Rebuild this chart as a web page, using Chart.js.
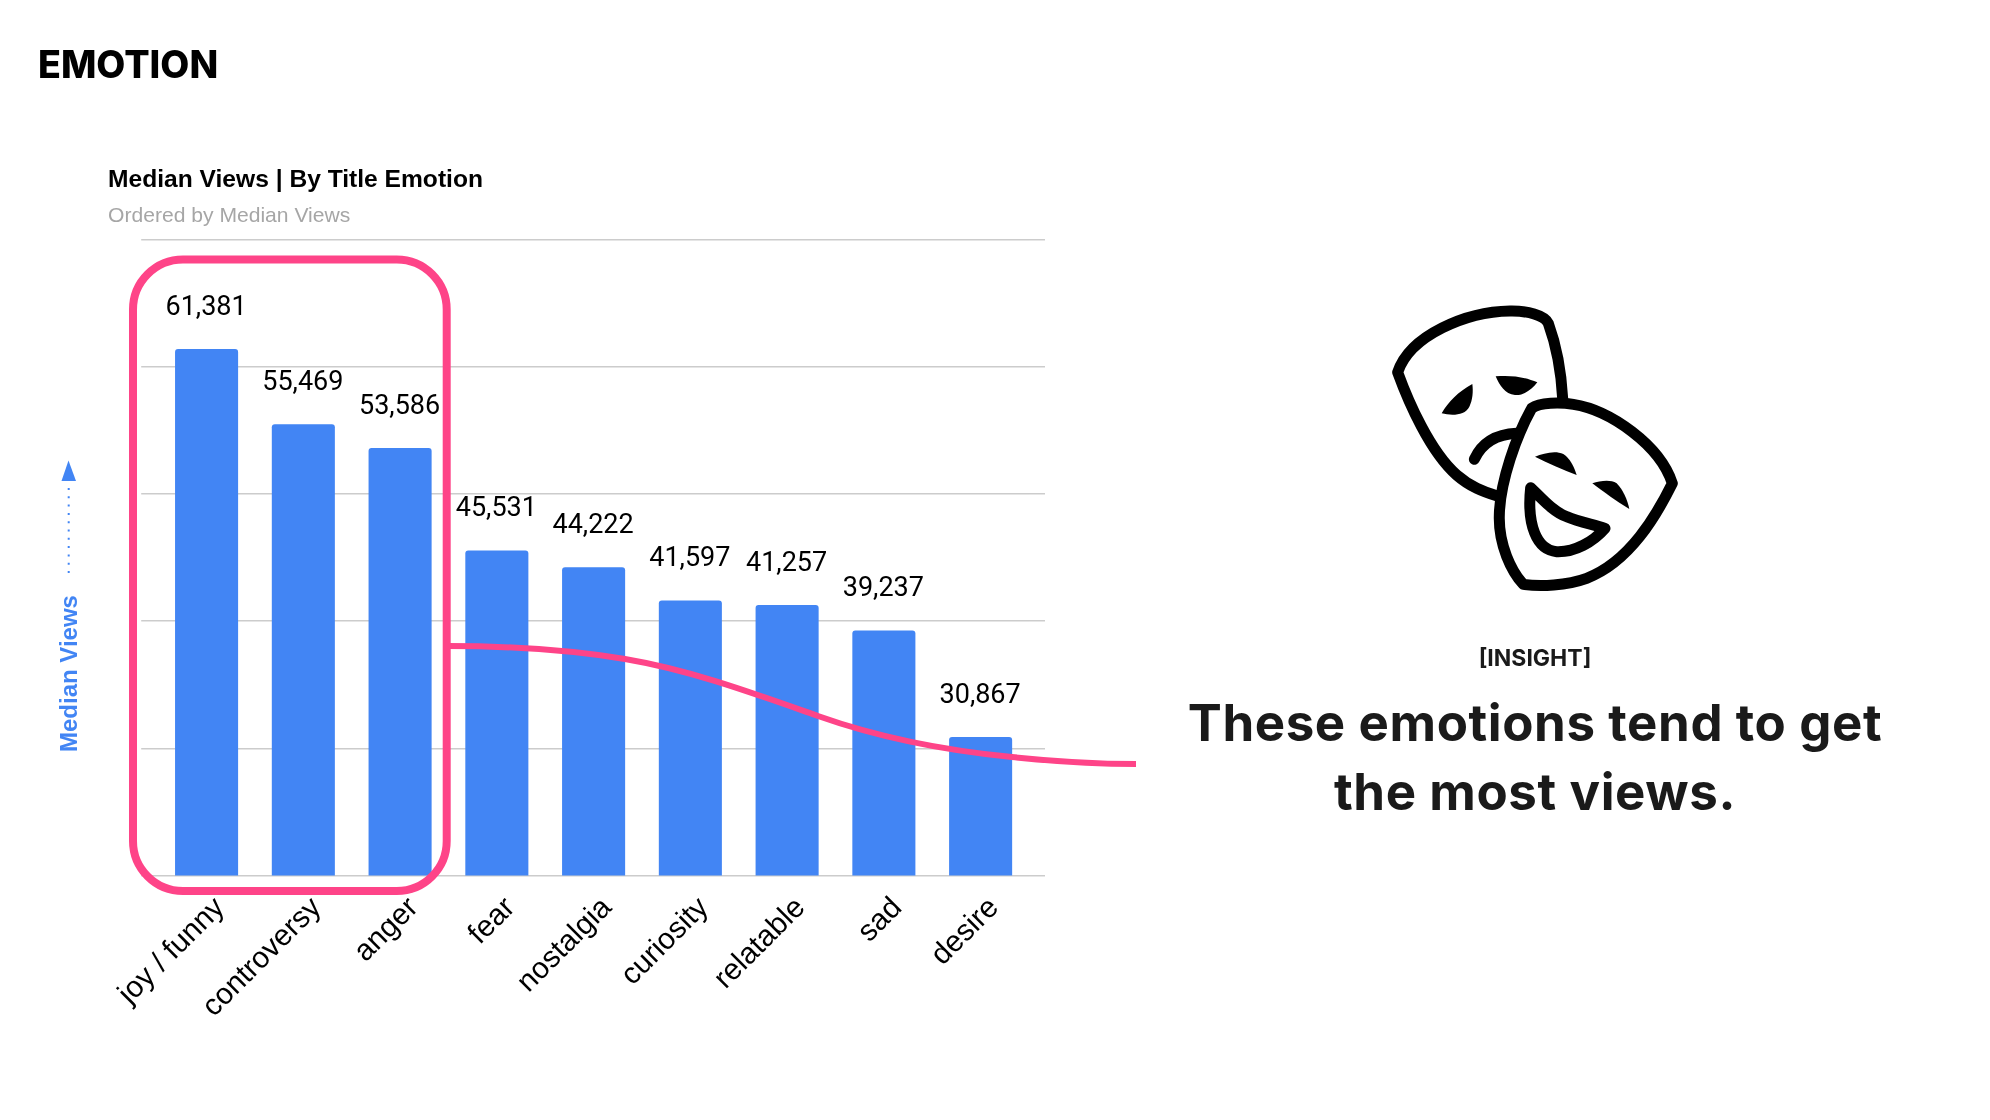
<!DOCTYPE html>
<html>
<head>
<meta charset="utf-8">
<title>Emotion</title>
<script src="https://cdn.jsdelivr.net/npm/chart.js@4"></script>
<style>
	html, body { margin: 0; padding: 0; background: #fff; }
	#page { position: relative; width: 1990px; height: 1120px; overflow: hidden; }
	#chart { position: absolute; left: 108px; top: 165px; }
	#overlay { position: absolute; left: 0; top: 0; pointer-events: none; }
	.txt { position: absolute; font-family: "Inter", sans-serif; white-space: nowrap; }
	#heading { left: 38px; top: 42px; font-size: 37.6px; line-height: 45px; font-weight: 800; color: #000; }
	#insight { left: 1335px; width: 400px; top: 644px; text-align: center; font-size: 23px; line-height: 28px; font-weight: 700; color: #1a1a1a; }
	#message { left: 1135px; width: 800px; top: 688px; text-align: center; font-size: 51px; line-height: 69px; font-weight: 700; letter-spacing: 0.6px; color: #1a1a1a; }
</style>
</head>
<body>
<div id="page">
	<canvas id="chart" width="937" height="937"></canvas>
	<svg id="overlay" width="1990" height="1120" viewBox="0 0 1990 1120">
		<!-- highlight around the top three and the swoosh to the insight -->
		<rect x="133" y="259.5" width="313.7" height="631.5" rx="50" ry="50" fill="none" stroke="#fe4488" stroke-width="8"/>
		<path d="M447 646 C510 646 570 650 625 659 C690 670 750 692 818 716 C880 738 950 751 1012 757 C1050 761 1095 764 1136 764" fill="none" stroke="#fe4488" stroke-width="6"/>

		<!-- axis caption and arrow -->
		<text transform="translate(76.5 752) rotate(-90)" font-family="Liberation Sans" font-weight="700" font-size="24" fill="#4285f4">Median Views</text>
		<line x1="68.7" y1="573" x2="68.7" y2="486" stroke="#4285f4" stroke-width="2" stroke-dasharray="2 6.3"/>
		<path d="M68.5 460.5 L76 481 L61.5 481 Z" fill="#4285f4"/>

		<!-- theatre masks -->
		<g transform="translate(1380 295) scale(0.33333)" stroke="#000" stroke-width="33" stroke-linejoin="round" stroke-linecap="round">
			<path d="M548 310 C543 220 525 140 505 85 C495 60 440 47 390 48 C260 50 90 120 53 232 C85 320 150 470 230 540 C270 575 310 590 352 603" fill="#fff" stroke-linecap="butt"/>
			<path d="M283 493 C305 445 345 418 410 415" fill="none"/>
			<path d="M277 267 C235 290 205 320 185 355 C215 362 255 362 268 335 C278 315 280 290 277 267 Z" fill="#000" stroke="none"/>
			<path d="M347 244 C390 240 435 245 472 262 C455 285 430 302 405 300 C375 298 358 270 347 244 Z" fill="#000" stroke="none"/>
			<path d="M455 340 C480 322 540 322 580 328 C690 345 840 450 877 565 C830 660 750 800 620 850 C560 872 480 875 430 868 C395 830 355 750 358 660 C360 560 410 420 455 340 Z" fill="#fff"/>
			<path d="M452 578 C490 615 520 650 560 665 C600 682 640 688 675 700 C640 740 585 772 530 770 C470 765 440 690 452 578 Z" fill="none"/>
			<path d="M465 485 C490 475 525 465 550 477 C570 490 582 515 590 540 C550 525 505 505 465 485 Z" fill="#000" stroke="none"/>
			<path d="M637 565 C660 558 690 552 710 565 C730 585 742 615 748 642 C710 620 670 590 637 565 Z" fill="#000" stroke="none"/>
		</g>
	</svg>
	<div id="heading" class="txt">EMOTION</div>
	<div id="insight" class="txt">[INSIGHT]</div>
	<div id="message" class="txt">These emotions tend to get<br>the most views.</div>
</div>

<script>
var categories = ["joy / funny", "controversy", "anger", "fear", "nostalgia", "curiosity", "relatable", "sad", "desire"];
var medianViews = [61381, 55469, 53586, 45531, 44222, 41597, 41257, 39237, 30867];
var axisMin = 20000;
var axisMax = 70000;
var axisStep = 10000;

var BLUE = "#4285f4";
var GRID = "#cccccc";

// values above each bar, chart.js has no built in data labels
var barValues = {
	id : "barValues",
	afterDatasetsDraw : function (chart) {
		var ctx = chart.ctx;
		var bars = chart.getDatasetMeta(0).data;
		ctx.save();
		ctx.font = "27px Roboto";
		ctx.fillStyle = "#000";
		ctx.textAlign = "center";
		ctx.textBaseline = "alphabetic";
		bars.forEach(function (bar, i) {
			ctx.fillText(medianViews[i].toLocaleString("en-US"), bar.x - 0.5, bar.y - 34.5);
		});
		ctx.restore();
	}
};

var sideAxis = {
	min : axisMin,
	max : axisMax,
	border : { display : false },
	ticks : { display : false, stepSize : axisStep }
};

new Chart(document.getElementById("chart"), {
	type : "bar",
	data : {
		labels : categories,
		datasets : [
			{
				label : "Median Views",
				data : medianViews,
				backgroundColor : BLUE,
				barThickness : 62.4,
				borderRadius : { topLeft : 3, topRight : 3 }
			}
		]
	},
	options : {
		responsive : false,
		animation : false,
		layout : { padding : 0 },
		plugins : {
			legend : { display : false },
			tooltip : { enabled : false },
			title : {
				display : true,
				align : "start",
				text : "Median Views | By Title Emotion",
				color : "#000",
				font : { family : "Liberation Sans", size : 24.6, weight : "bold" },
				padding : { top : 0, bottom : 9 }
			},
			subtitle : {
				display : true,
				align : "start",
				text : "Ordered by Median Views",
				color : "#a6a6a6",
				font : { family : "Liberation Sans", size : 21.1, weight : "normal" },
				padding : { top : 0, bottom : 10.9 }
			}
		},
		scales : {
			x : {
				grid : { display : false },
				border : { display : false },
				ticks : {
					autoSkip : false,
					minRotation : 45,
					maxRotation : 45,
					padding : 7,
					labelOffset : 13.5,
					color : "#000",
					font : { family : "Liberation Sans", size : 29.8 }
				},
				afterFit : function (scale) {
					scale.height = 226.5;
					scale.paddingLeft = 0;
					scale.paddingRight = 0;
				}
			},
			y : Object.assign({}, sideAxis, {
				position : "left",
				grid : { color : GRID, lineWidth : 1.5, tickLength : 17 },
				afterFit : function (scale) { scale.width = 50.2; }
			}),
			y1 : Object.assign({}, sideAxis, {
				position : "right",
				grid : { color : GRID, lineWidth : 1.5, tickLength : 16, drawOnChartArea : false },
				afterFit : function (scale) { scale.width = 16; }
			})
		}
	},
	plugins : [barValues]
});
</script>
</body>
</html>
